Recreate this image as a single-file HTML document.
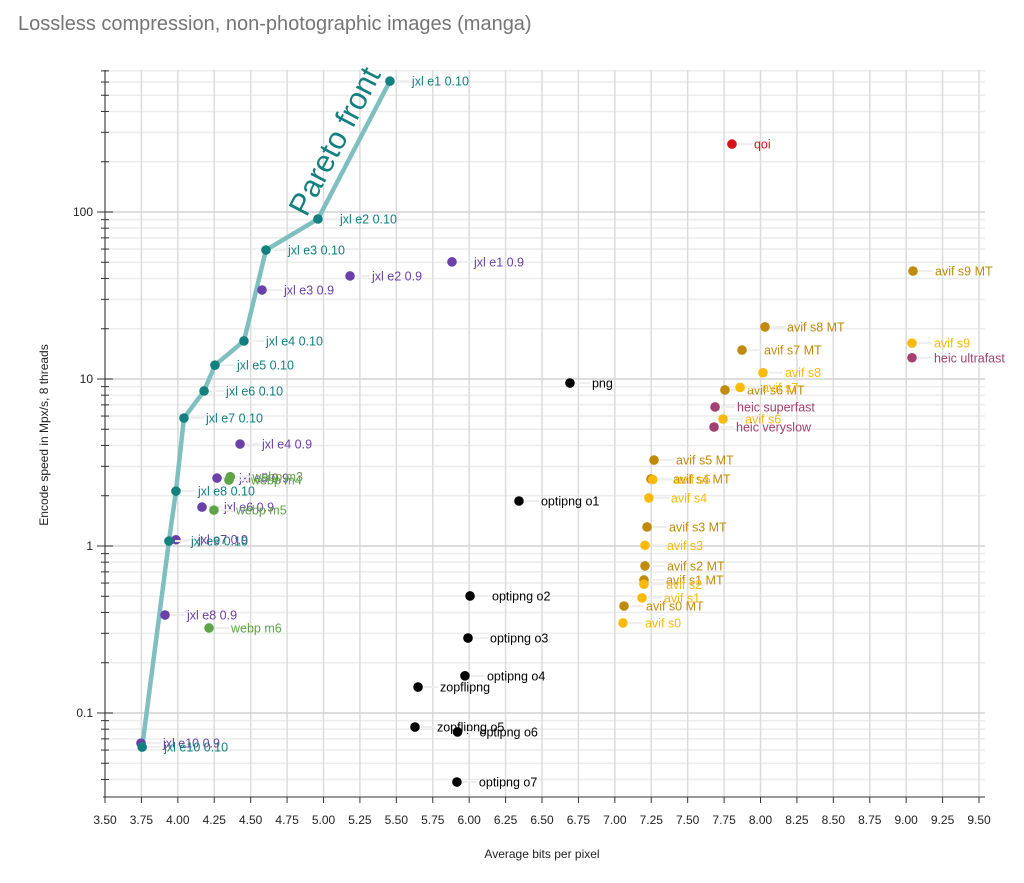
<!DOCTYPE html>
<html><head><meta charset="utf-8">
<style>
body{margin:0;background:#fff;font-family:"Liberation Sans",Arial,sans-serif;}
svg text{font-family:"Liberation Sans",Arial,sans-serif;}
</style></head>
<body>
<svg id="chart" width="1024" height="878" xmlns="http://www.w3.org/2000/svg">
<text x="18" y="30" font-size="20" fill="#757575">Lossless compression, non-photographic images (manga)</text>
<g id="grid"></g>
<g id="axes"></g>
<g id="front"></g>
<g id="pts"></g>
<text x="542" y="858" font-size="12" text-anchor="middle" fill="#222">Average bits per pixel</text>
<text transform="translate(48,435) rotate(-90)" font-size="12" text-anchor="middle" fill="#222">Encode speed in Mpx/s, 8 threads</text>
</svg>
<script>
const xTicks=["3.50","3.75","4.00","4.25","4.50","4.75","5.00","5.25","5.50","5.75","6.00","6.25","6.50","6.75","7.00","7.25","7.50","7.75","8.00","8.25","8.50","8.75","9.00","9.25","9.50"];
const yTicks=[0.1,1,10,100];
const yTickLabels=["0.1","1","10","100"];
const labels=["jxl e1 0.9","jxl e2 0.9","jxl e3 0.9","jxl e4 0.9","jxl e5 0.9","jxl e6 0.9","jxl e7 0.9","jxl e8 0.9","jxl e10 0.9",
"jxl e1 0.10","jxl e2 0.10","jxl e3 0.10","jxl e4 0.10","jxl e5 0.10","jxl e6 0.10","jxl e7 0.10","jxl e8 0.10","jxl e9 0.10","jxl e10 0.10",
"webp m3","webp m4","webp m5","webp m6","qoi",
"png","optipng o1","optipng o2","optipng o3","optipng o4","zopflipng","zopflipng o5","optipng o6","optipng o7",
"avif s9 MT","avif s8 MT","avif s7 MT","avif s6 MT","avif s5 MT","avif s4 MT","avif s3 MT","avif s2 MT","avif s1 MT","avif s0 MT",
"avif s9","avif s8","avif s7","avif s6","avif s5","avif s4","avif s3","avif s2","avif s1","avif s0",
"heic ultrafast","heic superfast","heic veryslow"];
const bpp=[5.882,5.182,4.578,4.427,4.269,4.166,3.987,3.912,3.747,
5.456,4.962,4.605,4.454,4.255,4.180,4.042,3.987,3.939,3.755,
4.36,4.351,4.248,4.214,7.804,
6.692,6.342,6.006,5.992,5.971,5.649,5.628,5.92,5.916,
9.047,8.031,7.873,7.756,7.269,7.248,7.221,7.207,7.200,7.063,
9.04,8.017,7.86,7.743,7.26,7.234,7.207,7.200,7.186,7.056,
9.04,7.688,7.681];
const speed=[50.3,41.4,34.1,4.08,2.55,1.71,1.09,0.386,0.066,
608,90.8,59.2,16.9,12.1,8.48,5.84,2.13,1.07,0.0625,
2.6,2.48,1.64,0.323,255,
9.46,1.86,0.502,0.281,0.167,0.143,0.0824,0.077,0.0386,
44.3,20.5,14.9,8.6,3.27,2.52,1.30,0.76,0.626,0.437,
16.4,10.9,8.9,5.76,2.5,1.94,1.01,0.59,0.489,0.346,
13.4,6.8,5.16];
const groups=["j9","j9","j9","j9","j9","j9","j9","j9","j9",
"j10","j10","j10","j10","j10","j10","j10","j10","j10","j10",
"webp","webp","webp","webp","qoi",
"png","png","png","png","png","png","png","png","png",
"amt","amt","amt","amt","amt","amt","amt","amt","amt","amt",
"av","av","av","av","av","av","av","av","av","av",
"heic","heic","heic"];
const frontIdx=[18,17,16,15,14,13,12,11,10,9];
const colors={j10:"#13807f",j9:"#6a41a8",webp:"#5fa448",qoi:"#d7141a",png:"#000",amt:"#c08a0a",av:"#fbb909",heic:"#a3406f"};
const X0=105,X1=979,Y100=212,DEC=167,YT=70,YB=797;
const sx=v=>X0+(v-3.5)/6*(X1-X0);
const sy=v=>Y100-(Math.log10(v)-2)*DEC;
const NS="http://www.w3.org/2000/svg";
function mk(p,t,a){const e=document.createElementNS(NS,t);for(const k in a)e.setAttribute(k,a[k]);p.appendChild(e);return e;}
const grid=document.getElementById('grid'),axes=document.getElementById('axes');
for(let d=-2;d<=2;d++)for(let m=2;m<=9;m++){const v=m*Math.pow(10,d);const y=sy(v);if(y<YT||y>YB)continue;
const l=mk(grid,'line',{x1:X0,x2:985,y1:y,y2:y,stroke:"#ececec","stroke-width":1.5});

const t=mk(axes,'line',{x1:X0-4,x2:X0+4,y1:y,y2:y,stroke:"#333"});
}
xTicks.forEach(s=>{const x=sx(parseFloat(s));
const l=mk(grid,'line',{x1:x,x2:x,y1:YT,y2:YB,stroke:"#dcdcdc","stroke-width":1.5});

const t=mk(axes,'line',{x1:x,x2:x,y1:YB,y2:YB+6,stroke:"#333"});

const tx=mk(axes,'text',{x:x,y:YB+27,"font-size":12,"text-anchor":"middle",fill:"#222"});tx.textContent=s;
});
yTicks.forEach((v,i)=>{const y=sy(v);
const l=mk(grid,'line',{x1:X0,x2:985,y1:y,y2:y,stroke:"#d4d4d4","stroke-width":1.5});

const t=mk(axes,'line',{x1:X0-8,x2:X0+8,y1:y,y2:y,stroke:"#333"});

const tx=mk(axes,'text',{x:X0-12,y:y+4,"font-size":12,"text-anchor":"end",fill:"#222"});tx.textContent=yTickLabels[i];
});
const ya=mk(axes,'line',{x1:X0,x2:X0,y1:YT,y2:YB,stroke:"#333"});

const xa=mk(axes,'line',{x1:X0-2,x2:985,y1:YB,y2:YB,stroke:"#333"});

const front=document.getElementById('front');
const pl=mk(front,'polyline',{points:frontIdx.map(i=>sx(bpp[i])+","+sy(speed[i])).join(" "),fill:"none",stroke:"#7fbfbf","stroke-width":4.5,"stroke-linejoin":"round"});

const a=sx(bpp[10]),b=sy(speed[10]),c=sx(bpp[9]),d=sy(speed[9]);
const ang=Math.atan2(d-b,c-a)*180/Math.PI;
const pt=mk(front,'text',{transform:`translate(${(a+c)/2-10},${(b+d)/2-4}) rotate(${ang})`,"font-size":31,"text-anchor":"middle",fill:"#13807f"});
pt.textContent="Pareto front";

const pts=document.getElementById('pts');
labels.forEach((lab,i)=>{const x=sx(bpp[i]),y=sy(speed[i]);const col=colors[groups[i]];
const g=mk(pts,'g',{});


mk(g,'line',{x1:x+6,x2:x+20,y1:y,y2:y,stroke:"#eee","stroke-width":2});
mk(g,'circle',{cx:x,cy:y,r:4.8,fill:col});
const t=mk(g,'text',{x:x+22,y:y+4.5,"font-size":12.5,fill:col});t.textContent=lab;});
</script>
</body></html>
